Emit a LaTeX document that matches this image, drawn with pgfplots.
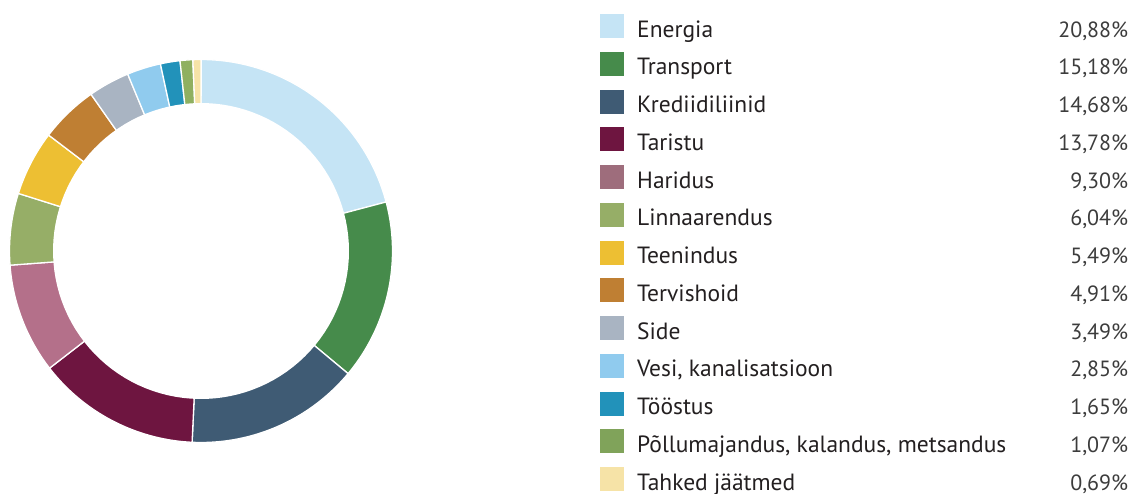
\documentclass[border=0pt]{standalone}
\usepackage{pgfplots}
\pgfplotsset{compat=1.18}
\usepackage{fontspec}
\setmainfont{PT Sans}
\definecolor{cA}{HTML}{C5E4F5}
\definecolor{cB}{HTML}{468B4B}
\definecolor{cC}{HTML}{3F5B74}
\definecolor{cD}{HTML}{6E1540}
\definecolor{cE}{HTML}{B4708A}
\definecolor{cEl}{HTML}{9E6D7C}
\definecolor{cF}{HTML}{96AE67}
\definecolor{cG}{HTML}{EDBF33}
\definecolor{cH}{HTML}{BF7F33}
\definecolor{cI}{HTML}{A9B4C2}
\definecolor{cJ}{HTML}{90CBEE}
\definecolor{cK}{HTML}{2292BA}
\definecolor{cL}{HTML}{8FB060}
\definecolor{cLl}{HTML}{80A35A}
\definecolor{cM}{HTML}{F6E3A7}
\definecolor{txt}{HTML}{231F20}
\definecolor{pct}{HTML}{3C3C3C}
\def\cum{0}
\newcommand\slice[2]{%
  \pgfmathsetmacro\cumB{\cum+#2}%
  \edef\temp{\noexpand\addplot[fill=#1, draw=white, line width=1.3pt, line join=miter, domain=\cum:\cumB, samples=40, forget plot] ({201+191.5*cos(90-3.6*x)},{242+191.5*sin(90-3.6*x)}) -- (axis cs:201,242) -- cycle;}%
  \temp
  \global\let\cum\cumB}
\newcommand\entry[2]{\makebox[491pt][l]{\color{txt}#1\hfill{\color{pct}\fontsize{22}{24}\selectfont #2}}}
\begin{document}
\begin{tikzpicture}
\begin{axis}[
  width=1130pt, height=493pt, scale only axis,
  xmin=0, xmax=1130, ymin=0, ymax=493,
  hide axis, clip=false,
  legend image code/.code={\fill[#1, draw=none] (0pt,-1pt) rectangle (24pt,23pt);},
  legend style={draw=none, fill=none, inner xsep=0pt, inner ysep=0pt,
    at={(0.530973,0.971602)}, anchor=north west,
    font=\fontsize{23.5}{25}\selectfont,
    row sep=13.75pt, column sep=13pt,
    nodes={inner sep=0pt, text height=23pt, text depth=1pt},
    cells={anchor=base west}},
]
\addplot[draw=none, forget plot] coordinates {(0,0) (1130,493)};
\slice{cA}{20.88}
\slice{cB}{15.18}
\slice{cC}{14.68}
\slice{cD}{13.78}
\slice{cE}{9.30}
\slice{cF}{6.04}
\slice{cG}{5.49}
\slice{cH}{4.91}
\slice{cI}{3.49}
\slice{cJ}{2.85}
\slice{cK}{1.65}
\slice{cL}{1.07}
\slice{cM}{0.69}
\addplot[fill=white, draw=none, domain=0:360, samples=120, forget plot] ({201+148*cos(x)},{242+148*sin(x)}) -- cycle;
\addlegendimage{fill=cA}\addlegendentry{\entry{Energia}{20,88\%}}
\addlegendimage{fill=cB}\addlegendentry{\entry{Transport}{15,18\%}}
\addlegendimage{fill=cC}\addlegendentry{\entry{Krediidiliinid}{14,68\%}}
\addlegendimage{fill=cD}\addlegendentry{\entry{Taristu}{13,78\%}}
\addlegendimage{fill=cEl}\addlegendentry{\entry{Haridus}{9,30\%}}
\addlegendimage{fill=cF}\addlegendentry{\entry{Linnaarendus}{6,04\%}}
\addlegendimage{fill=cG}\addlegendentry{\entry{Teenindus}{5,49\%}}
\addlegendimage{fill=cH}\addlegendentry{\entry{Tervishoid}{4,91\%}}
\addlegendimage{fill=cI}\addlegendentry{\entry{Side}{3,49\%}}
\addlegendimage{fill=cJ}\addlegendentry{\entry{Vesi, kanalisatsioon}{2,85\%}}
\addlegendimage{fill=cK}\addlegendentry{\entry{Tööstus}{1,65\%}}
\addlegendimage{fill=cLl}\addlegendentry{\entry{Põllumajandus, kalandus, metsandus}{1,07\%}}
\addlegendimage{fill=cM}\addlegendentry{\entry{Tahked jäätmed}{0,69\%}}
\end{axis}
\end{tikzpicture}
\end{document}
